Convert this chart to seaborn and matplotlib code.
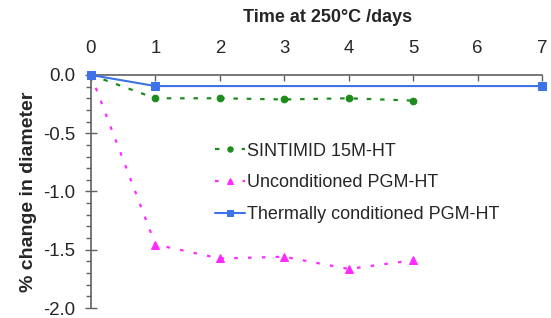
import matplotlib
matplotlib.use("Agg")
import matplotlib.pyplot as plt
import seaborn as sns
import pandas as pd
from matplotlib.ticker import MultipleLocator

sns.set_style("white")
plt.rcParams['font.family'] = ['Liberation Sans', 'DejaVu Sans']

sintimid_days = [0, 1, 2, 3, 4, 5]
sintimid_vals = [0.0, -0.20, -0.20, -0.21, -0.20, -0.22]
uncond_days = [0, 1, 2, 3, 4, 5]
uncond_vals = [0.0, -1.455, -1.575, -1.56, -1.665, -1.59]
thermal_days = [0, 1, 7]
thermal_vals = [0.0, -0.095, -0.095]

labels = ["SINTIMID 15M-HT", "Unconditioned PGM-HT", "Thermally conditioned PGM-HT"]
x_ticks = [0, 1, 2, 3, 4, 5, 6, 7]
y_ticks = [0.0, -0.5, -1.0, -1.5, -2.0]

df = pd.concat([
    pd.DataFrame({"day": sintimid_days, "val": sintimid_vals, "series": labels[0]}),
    pd.DataFrame({"day": uncond_days, "val": uncond_vals, "series": labels[1]}),
    pd.DataFrame({"day": thermal_days, "val": thermal_vals, "series": labels[2]}),
])

fig = plt.figure(figsize=(5.51, 3.18), dpi=100)
ax = fig.add_axes([0.165, 0.0314, 0.8187, 0.7328])

grey = "#606060"
styles = {
    labels[0]: dict(color="#1c8c1c", marker="o", ls=(0, (2, 4)), ms=4.8, lw=1.6),
    labels[1]: dict(color="#ff2aff", marker="^", ls=(0, (1.6, 4.6)), ms=5.8, lw=1.6),
    labels[2]: dict(color="#3d72e8", marker="s", ls="-", ms=5.4, lw=1.5),
}
for lab in labels:
    st = styles[lab]
    sub = df[df["series"] == lab]
    sns.lineplot(data=sub, x="day", y="val", ax=ax, color=st["color"], marker=st["marker"],
                 linestyle=st["ls"], markersize=st["ms"], linewidth=st["lw"],
                 markeredgecolor=st["color"], label=lab, clip_on=False, zorder=3)

ax.set_xlim(0, 7)
ax.set_ylim(-2.0, 0.0)
ax.xaxis.tick_top()
ax.xaxis.set_label_position("top")
ax.set_xticks(x_ticks)
ax.set_xticklabels([str(t) for t in x_ticks])
ax.set_yticks(y_ticks)
ax.set_yticklabels([f"{t:.1f}" for t in y_ticks])
ax.yaxis.set_minor_locator(MultipleLocator(0.1))

ax.set_xlabel("Time at 250°C /days", fontsize=13, fontweight="bold")
ax.xaxis.set_label_coords(0.525, 1.227)
ax.set_ylabel("% change in diameter", fontsize=14, fontweight="bold", labelpad=4)

for s in ["right", "bottom"]:
    ax.spines[s].set_visible(False)
for s in ["top", "left"]:
    ax.spines[s].set_color(grey)
    ax.spines[s].set_linewidth(1.2)

ax.tick_params(axis="x", which="major", direction="in", length=4, width=1, color=grey,
               labelsize=13.4, pad=13, top=True, bottom=False)
ax.tick_params(axis="y", which="major", direction="inout", length=8.5, width=1, color=grey,
               labelsize=13.4, pad=7, left=True)
ax.tick_params(axis="y", which="minor", direction="out", length=3.6, width=1, color=grey, left=True)

leg = ax.legend(loc="upper left", bbox_to_anchor=(0.275, 0.71), frameon=False, fontsize=13,
                handlelength=1.65, handletextpad=0.12, labelspacing=0.82, borderaxespad=0,
                borderpad=0, markerscale=0.8)

fig.savefig("out.png", dpi=100)
